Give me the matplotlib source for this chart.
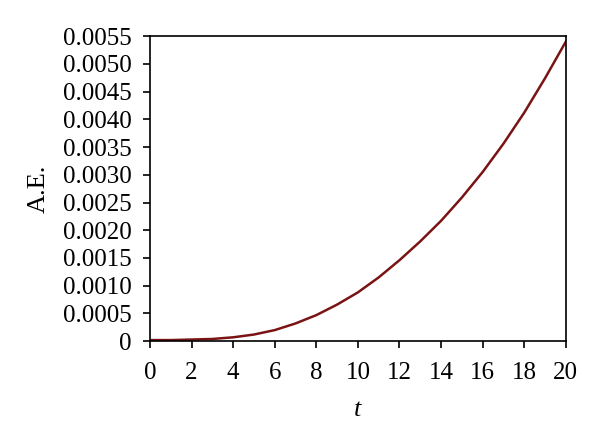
import matplotlib
matplotlib.use("Agg")
import matplotlib.pyplot as plt

# values
t = [0, 1, 2, 3, 4, 5, 6, 7, 8, 9, 10,
     11, 12, 13, 14, 15, 16, 17, 18, 19, 20]
ae = [0.00002, 0.00002, 0.00003, 0.00004, 0.00007, 0.00012, 0.00020,
      0.00032, 0.00047, 0.00066, 0.00088, 0.00115, 0.00146, 0.00180,
      0.00217, 0.00259, 0.00305, 0.00356, 0.00412, 0.00474, 0.00540]

x_ticks = list(range(0, 21, 2))
y_ticks = [i * 0.0005 for i in range(12)]
y_labels = ["0"] + ["%.4f" % v for v in y_ticks[1:]]

plt.rcParams['font.family'] = ['Liberation Serif', 'DejaVu Serif']

fig = plt.figure(figsize=(6.0, 4.46), dpi=100)
ax = fig.add_axes([0.25, 0.235, 0.693, 0.684])
ax.plot(t, ae, color='#7a1414', linewidth=1.8)

ax.set_xlim(0, 20)
ax.set_ylim(0, 0.0055)
ax.set_xticks(x_ticks)
ax.set_xticklabels([str(v) for v in x_ticks])
ax.set_yticks(y_ticks)
ax.set_yticklabels(y_labels)
ax.tick_params(direction='out', length=5, width=1.2, labelsize=18)
ax.tick_params(axis='x', pad=10)
ax.tick_params(axis='y', pad=8)
for s in ax.spines.values():
    s.set_linewidth(1.2)

ax.set_xlabel('t', fontsize=19, style='italic', labelpad=11)
ax.set_ylabel('A.E.', fontsize=19, labelpad=10)

fig.savefig('out.png', dpi=100)
